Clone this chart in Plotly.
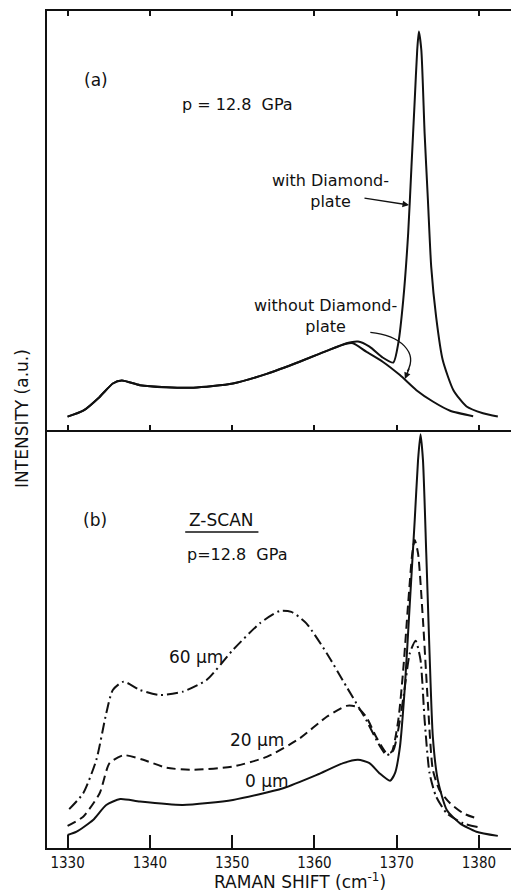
import plotly.graph_objects as go

# ---- panel (a): with / without diamond plate ----
a_with_x = [1330.0, 1331.9, 1333.9, 1335.5, 1336.6, 1338.8, 1342.0, 1345.3, 1350.1, 1354.2,
            1358.2, 1361.5, 1363.9, 1365.3, 1366.7, 1368.3, 1369.6, 1370.2, 1370.8, 1371.4,
            1371.8, 1372.2, 1372.5, 1372.7, 1373.0, 1373.4, 1373.8, 1374.2, 1374.8, 1375.6,
            1376.9, 1378.5, 1380.5, 1382.3]
a_with_y = [3.2, 4.6, 7.9, 11.1, 11.8, 10.7, 10.2, 10.1, 11.1, 13.4,
            16.3, 18.9, 20.7, 21.1, 19.9, 17.3, 16.1, 20.7, 31.0, 46.9,
            62.8, 78.8, 90.7, 95.1, 90.7, 70.8, 54.9, 39.0, 27.0, 16.7,
            9.5, 5.6, 4.0, 3.2]

a_without_x = [1330.0, 1331.9, 1333.9, 1335.5, 1336.6, 1338.8, 1342.0, 1345.3, 1350.1, 1354.2,
               1358.2, 1361.5, 1363.9, 1364.7, 1366.3, 1368.3, 1370.4, 1372.4, 1374.4, 1376.5,
               1379.3]
a_without_y = [3.2, 4.6, 7.9, 11.1, 11.8, 10.7, 10.2, 10.1, 11.1, 13.4,
               16.3, 18.9, 20.6, 20.7, 18.7, 16.3, 13.1, 9.5, 6.8, 4.6,
               3.3]

# ---- panel (b): Z-scan ----
b0_x = [1330.0, 1331.1, 1333.1, 1334.7, 1336.4, 1338.8, 1344.0, 1350.1, 1356.2, 1360.3,
        1363.5, 1365.3, 1366.7, 1367.9, 1369.2, 1369.8, 1370.4, 1371.0, 1371.6, 1372.2,
        1372.6, 1372.9, 1373.2, 1373.6, 1374.0, 1374.4, 1375.0, 1376.1, 1377.7, 1379.7,
        1382.3]
b0_y = [3.1, 3.9, 6.7, 10.3, 11.7, 11.1, 10.3, 11.5, 14.3, 17.5,
        20.3, 21.1, 20.3, 17.9, 16.1, 17.9, 24.2, 38.6, 58.5, 78.5,
        92.8, 99.0, 92.8, 70.5, 46.6, 26.6, 16.3, 9.1, 5.9, 3.9,
        2.9]

b20_x = [1330.0, 1331.9, 1333.9, 1335.1, 1336.8, 1339.2, 1342.0, 1345.3, 1350.1, 1354.2,
         1358.2, 1361.5, 1363.9, 1365.1, 1366.3, 1367.5, 1368.8, 1369.4, 1370.2, 1370.8,
         1371.4, 1371.9, 1372.2, 1372.6, 1373.2, 1373.8, 1374.4, 1375.2, 1376.5, 1378.1,
         1379.7]
b20_y = [5.3, 7.5, 13.1, 20.3, 22.2, 21.1, 19.2, 18.7, 19.5, 21.8,
         26.2, 31.4, 34.0, 33.8, 31.4, 26.6, 22.7, 23.0, 30.6, 42.6,
         58.5, 70.5, 73.7, 70.5, 54.5, 34.6, 18.7, 13.9, 10.7, 8.3,
         7.1]

b60_x = [1330.2, 1331.9, 1333.5, 1334.7, 1335.5, 1336.8, 1338.8, 1341.2, 1344.0, 1346.9,
         1350.1, 1353.4, 1355.8, 1357.2, 1359.0, 1361.5, 1363.9, 1366.3, 1367.9, 1368.8,
         1369.6, 1370.4, 1371.0, 1371.6, 1372.3, 1372.9, 1373.4, 1374.0, 1374.8, 1376.1,
         1378.1, 1379.9]
b60_y = [9.3, 13.1, 21.1, 32.2, 37.8, 39.8, 37.8, 36.6, 37.4, 40.2,
         47.4, 53.8, 56.7, 56.5, 53.8, 46.6, 38.6, 30.6, 24.6, 22.2,
         23.4, 30.6, 38.6, 46.6, 49.6, 45.0, 30.6, 17.9, 12.3, 8.3,
         5.9, 5.0]

tick_vals = [1330, 1340, 1350, 1360, 1370, 1380]
tick_text = ["1330", "1340", "1350", "1360", "1370", "1380"]
x_range = [1327.5, 1383.9]

BLACK = "#111111"
FONT = "DejaVu Sans, Liberation Sans, sans-serif"
NARROW = "DejaVu Sans Condensed, Liberation Sans Narrow, Liberation Sans, sans-serif"

fig = go.Figure()

line = dict(color=BLACK, width=2, shape="spline", smoothing=0.6)

fig.add_trace(go.Scatter(x=a_without_x, y=a_without_y, mode="lines", line=line,
                         xaxis="x", yaxis="y", name="without Diamond-plate"))
fig.add_trace(go.Scatter(x=a_with_x, y=a_with_y, mode="lines", line=line,
                         xaxis="x", yaxis="y", name="with Diamond-plate"))
fig.add_trace(go.Scatter(x=b0_x, y=b0_y, mode="lines", line=line,
                         xaxis="x2", yaxis="y2", name="0 µm"))
fig.add_trace(go.Scatter(x=b20_x, y=b20_y, mode="lines",
                         line=dict(line, dash="9px,5px"),
                         xaxis="x2", yaxis="y2", name="20 µm"))
fig.add_trace(go.Scatter(x=b60_x, y=b60_y, mode="lines",
                         line=dict(line, dash="11px,4px,2px,4px"),
                         xaxis="x2", yaxis="y2", name="60 µm"))

split = (848 - 430) / 837.0

common_x = dict(range=x_range, tickvals=tick_vals, showgrid=False, zeroline=False,
                linecolor=BLACK, linewidth=2, tickcolor=BLACK, tickwidth=1.5,
                automargin=False)

fig.update_layout(
    width=511, height=893,
    margin=dict(l=47, r=0, t=11, b=45),
    paper_bgcolor="white", plot_bgcolor="white",
    showlegend=False,
    font=dict(family=FONT, color=BLACK, size=15),
    xaxis=dict(common_x, domain=[0, 1], anchor="y", ticks="inside", ticklen=5,
               showline=True, mirror="ticks", showticklabels=False, matches="x2"),
    yaxis=dict(domain=[split, 1], range=[0, 100], showgrid=False, zeroline=False,
               showline=True, linecolor=BLACK, linewidth=2, showticklabels=False,
               ticks="", automargin=False),
    xaxis2=dict(common_x, domain=[0, 1], anchor="y2", ticks="inside", ticklen=13,
                showline=True, mirror=False, ticktext=tick_text, ticklabelstandoff=0,
                tickfont=dict(family=NARROW, size=15, color=BLACK)),
    yaxis2=dict(domain=[0, split], range=[0, 100], showgrid=False, zeroline=False,
                showline=True, linecolor=BLACK, linewidth=2, showticklabels=False,
                ticks="", automargin=False),
    xaxis3=dict(common_x, overlaying="x2", side="top", anchor="y2", ticks="inside",
                ticklen=5, showline=False, showticklabels=False, matches="x2"),
)

ann = []

def txt(text, x, y, xref="x", yref="y", size=15, **kw):
    d = dict(text=text, x=x, y=y, xref=xref, yref=yref, showarrow=False,
             font=dict(family=FONT, size=size, color=BLACK), xanchor="center", yanchor="middle")
    d.update(kw)
    ann.append(d)

# panel (a) labels
txt("(a)", 1333.4, 83.5, size=17)
txt("p = 12.8  GPa", 1350.6, 77.8, size=16)
txt("with Diamond-<br>plate", 1362.0, 57.0, size=16)
txt("without Diamond-<br>plate", 1361.4, 27.3, size=16)

# arrows in panel (a)
ann.append(dict(x=1371.5, y=53.7, xref="x", yref="y", ax=-46, ay=-7, text="",
                showarrow=True, arrowhead=2, arrowsize=1, arrowwidth=1.3, arrowcolor=BLACK))
ann.append(dict(x=1371.0, y=12.2, xref="x", yref="y", ax=5, ay=-12, text="",
                showarrow=True, arrowhead=2, arrowsize=1, arrowwidth=1.3, arrowcolor=BLACK))

# panel (b) labels
txt("(b)", 1333.3, 78.5, xref="x2", yref="y2", size=17)
txt("Z-SCAN", 1348.7, 78.5, xref="x2", yref="y2", size=17)
txt("p=12.8  GPa", 1350.6, 70.1, xref="x2", yref="y2", size=16)
txt("60 µm", 1345.6, 45.7, xref="x2", yref="y2", size=17)
txt("20 µm", 1353.0, 25.8, xref="x2", yref="y2", size=17)
txt("0 µm", 1354.3, 16.0, xref="x2", yref="y2", size=17)

# axis titles
txt("INTENSITY (a.u.)", -0.054, (848 - 418) / 837.0, xref="paper", yref="paper",
    size=17, textangle=-90)
txt("RAMAN SHIFT (cm<sup>-1</sup>)", (300 - 47) / 464.0, -(893 - 848) / 837.0,
    xref="paper", yref="paper", size=17, yanchor="bottom", borderpad=0)

fig.update_layout(annotations=ann)

# curved leader for "without Diamond-plate" and underline for Z-SCAN
fig.add_shape(type="path", xref="x", yref="y",
              path="M 1366.8,23.3 C 1370.5,22.6 1372.6,18.5 1371.3,14.0",
              line=dict(color=BLACK, width=1.3))
fig.add_shape(type="line", xref="x2", yref="y2", x0=1344.3, x1=1353.2, y0=75.6, y1=75.6,
              line=dict(color=BLACK, width=1.5))

fig.write_html("out.html",
               config={"displayModeBar": False},
               post_script="document.body.style.margin='0';"
                           "document.body.style.overflow='hidden';")
